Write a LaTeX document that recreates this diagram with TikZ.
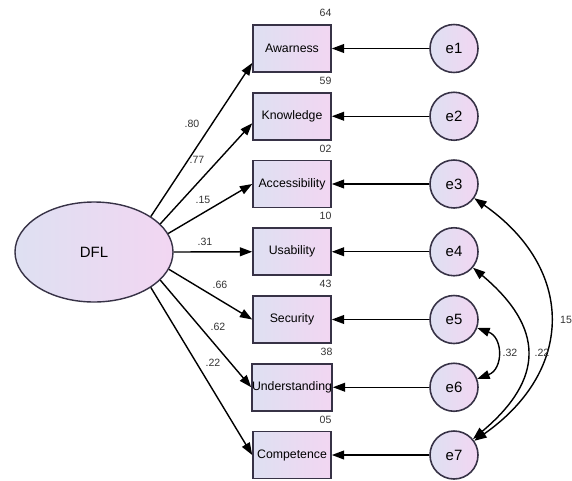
\documentclass[tikz,border=0pt]{standalone}
\usepackage{fontspec}
\setmainfont{Liberation Sans}
\usepackage{tikz}
\usetikzlibrary{arrows.meta, shapes.geometric, positioning}
\definecolor{amosblue}{RGB}{222,224,242}
\definecolor{amospink}{RGB}{242,214,242}
\definecolor{amosline}{RGB}{55,50,70}
\tikzstyle{varbox} = [rectangle, draw=amosline, line width=0.9pt, left color=amosblue, right color=amospink, minimum width=1.56cm, minimum height=0.94cm, inner sep=0pt, font=\fontsize{7}{8}\selectfont]
\tikzstyle{latent} = [ellipse, draw=amosline, line width=0.8pt, left color=amosblue, right color=amospink, minimum width=3.16cm, minimum height=2cm, font=\fontsize{8.5}{10}\selectfont]
\tikzstyle{errvar} = [circle, draw=amosline, line width=0.9pt, left color=amosblue, right color=amospink, minimum size=0.96cm, inner sep=0pt, font=\fontsize{8.5}{10}\selectfont]
\tikzstyle{coef} = [inner sep=1pt, text=black!80, font=\fontsize{6}{7}\selectfont]
\tikzstyle{arrow} = [line width=0.8pt, -{Triangle[length=7pt,width=5pt]}]
\tikzstyle{covar} = [line width=0.8pt, {Triangle[length=7pt,width=5pt]}-{Triangle[length=7pt,width=5pt]}]

\begin{document}
\begin{tikzpicture}
      \useasboundingbox (0,0) rectangle (11.44,9.6);

      % Latent variable
      \node [latent] (dfl) at (1.88,4.56) {DFL};

      % Observed indicators
      \node [varbox] (aw) at (5.84,8.63) {Awarness};
      \node [varbox] (kn) at (5.84,7.275) {Knowledge};
      \node [varbox] (ac) at (5.84,5.92) {Accessibility};
      \node [varbox] (us) at (5.84,4.565) {Usability};
      \node [varbox] (se) at (5.84,3.21) {Security};
      \node [varbox] (un) at (5.84,1.855) {Understanding};
      \node [varbox] (co) at (5.84,0.50) {Competence};

      % Error terms
      \node [errvar] (e1) at (9.08,8.63) {e1};
      \node [errvar] (e2) at (9.08,7.275) {e2};
      \node [errvar] (e3) at (9.08,5.92) {e3};
      \node [errvar] (e4) at (9.08,4.565) {e4};
      \node [errvar] (e5) at (9.08,3.21) {e5};
      \node [errvar] (e6) at (9.08,1.855) {e6};
      \node [errvar] (e7) at (9.08,0.50) {e7};

      % Squared multiple correlations
      \node [coef, above left=3pt and -1pt of aw.north east] (r2aw) {64};
      \node [coef, above left=3pt and -1pt of kn.north east] (r2kn) {59};
      \node [coef, above left=3pt and -1pt of ac.north east] (r2ac) {02};
      \node [coef, above left=3pt and -1pt of us.north east] (r2us) {10};
      \node [coef, above left=3pt and -1pt of se.north east] (r2se) {43};
      \node [coef, above left=3pt and -1pt of un.north east] (r2un) {38};
      \node [coef, above left=3pt and -1pt of co.north east] (r2co) {05};

      % Factor loadings
      \draw [arrow] (dfl.32) -- (aw.200);
      \draw [arrow] (dfl.23) -- (kn.190);
      \draw [arrow] (dfl.14) -- (ac.west);
      \draw [arrow] (dfl.east) -- (us.west);
      \draw [arrow] (dfl.-13) -- (se.west);
      \draw [arrow] (dfl.-23) -- (un.west);
      \draw [arrow] (dfl.-32) -- (co.west);

      \node [coef] (l80) at (3.84,7.12) {.80};
      \node [coef] (l77) at (3.94,6.40) {.77};
      \node [coef] (l15) at (4.06,5.60) {.15};
      \node [coef] (l31) at (4.10,4.76) {.31};
      \node [coef] (l66) at (4.40,3.90) {.66};
      \node [coef] (l62) at (4.36,3.06) {.62};
      \node [coef] (l22) at (4.26,2.34) {.22};

      % Error paths
      \draw [arrow] (e1) -- (aw);
      \draw [arrow] (e2) -- (kn);
      \draw [arrow] (e3) -- (ac);
      \draw [arrow] (e4) -- (us);
      \draw [arrow] (e5) -- (se);
      \draw [arrow] (e6) -- (un);
      \draw [arrow] (e7) -- (co);

      % Error covariances
      \draw [covar] (e5) to[out=-20, in=20, looseness=1.4] (e6);
      \draw [covar] (e4) to[out=-40, in=40, looseness=1.4] (e7);
      \draw [covar] (e3) to[out=-35, in=35, looseness=1.3] (e7);

      \node [coef] (c32) at (10.20,2.54) {.32};
      \node [coef] (c22) at (10.84,2.54) {.22};
      \node [coef] (c15) at (11.32,3.20) {15};
    \end{tikzpicture}
\end{document}
